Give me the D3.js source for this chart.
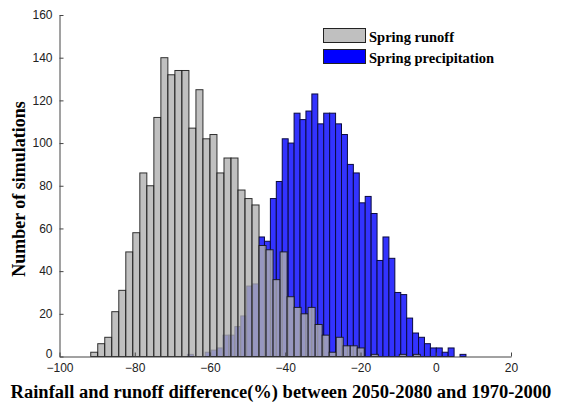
<!DOCTYPE html>
<html>
<head>
<meta charset="utf-8">
<script src="https://cdn.jsdelivr.net/npm/d3@7"></script>
<style>
  html, body { margin: 0; padding: 0; background: #fff; }
  svg { display: block; }
  .tick text { font-family: "Liberation Sans", Arial, sans-serif; font-size: 12px; fill: #222; }
  .tick line, .domain { stroke: #444; }
  .lbl { font-family: "Liberation Serif", "Times New Roman", serif; font-weight: bold; fill: #000; }
</style>
</head>
<body>
<svg id="chart" width="561" height="405"></svg>
<script>
// Histogram counts per bin (number of simulations)
const runoffCounts = [2, 6, 9, 21, 31, 49, 58, 86, 80, 112, 140, 132, 134, 134, 107, 125,
  102, 104, 86, 93, 93, 78, 74, 71, 52, 50, 36, 49, 28, 23, 20, 23, 15, 10, 2, 9, 5, 5, 4,
  0, 1, 0, 0, 0, 1, 0, 1];
const precipCounts = [1, 0, 0, 2, 3, 4, 10, 10, 14, 19, 33, 34, 56, 54, 74, 82, 102, 100,
  114, 111, 115, 123, 109, 114, 114, 109, 104, 90, 86, 72, 75, 67, 45, 56, 46, 30, 29, 18,
  11, 9, 6, 4, 4, 2, 4, 0, 1];

// Bin layout (% difference): first lower edge and bin width of each histogram
const runoffBinStart = -91.7, runoffBinWidth = 1.864;
const precipBinStart = -66.0, precipBinWidth = 1.575;

const xTicks = [-100, -80, -60, -40, -20, 0, 20];
const yTicks = [0, 20, 40, 60, 80, 100, 120, 140, 160];
const seriesNames = ["Spring runoff", "Spring precipitation"];

const svg = d3.select("#chart");
const x = d3.scaleLinear().domain([-100, 20]).range([59.5, 511]);
const y = d3.scaleLinear().domain([0, 160]).range([356.5, 15]);

function bins(counts, start, width) {
  return counts.map((c, i) => ({ x0: start + i * width, x1: start + (i + 1) * width, n: c }))
    .filter(d => d.n > 0);
}

// Precipitation first, runoff drawn over it with transparency
svg.append("g").selectAll("rect")
  .data(bins(precipCounts, precipBinStart, precipBinWidth))
  .join("rect")
  .attr("x", d => x(d.x0))
  .attr("width", d => x(d.x1) - x(d.x0))
  .attr("y", d => y(d.n))
  .attr("height", d => y(0) - y(d.n))
  .attr("fill", "#3333ff")
  .attr("stroke", "#0a0a40")
  .attr("stroke-width", 1);

svg.append("g").selectAll("rect")
  .data(bins(runoffCounts, runoffBinStart, runoffBinWidth))
  .join("rect")
  .attr("x", d => x(d.x0))
  .attr("width", d => x(d.x1) - x(d.x0))
  .attr("y", d => y(d.n))
  .attr("height", d => y(0) - y(d.n))
  .attr("fill", "rgb(176,176,176)")
  .attr("fill-opacity", 0.8)
  .attr("stroke", "#111")
  .attr("stroke-opacity", 0.85)
  .attr("stroke-width", 1);

// Axes with inward ticks
const gx = svg.append("g").attr("transform", `translate(0,${y(0)})`)
  .call(d3.axisBottom(x).tickValues(xTicks).tickSize(-4).tickPadding(9).tickSizeOuter(0));
gx.selectAll(".tick text").attr("dy", "0.55em");

const gy = svg.append("g").attr("transform", `translate(${x(-100)},0)`)
  .call(d3.axisLeft(y).tickValues(yTicks).tickSize(-4).tickPadding(7).tickSizeOuter(0));
gy.selectAll(".tick text").filter(d => d === 0).attr("dy", "0.1em");

// Axis titles
svg.append("text").attr("class", "lbl")
  .attr("x", 281).attr("y", 398)
  .attr("text-anchor", "middle")
  .style("font-size", "18.5px")
  .text("Rainfall and runoff difference(%) between 2050-2080 and 1970-2000");

svg.append("text").attr("class", "lbl")
  .attr("transform", "translate(25,189) rotate(-90)")
  .attr("text-anchor", "middle")
  .style("font-size", "18px")
  .text("Number of simulations");

// Legend
const legendFills = ["#c0c0c0", "#0000ff"];
const lg = svg.append("g");
seriesNames.forEach((name, i) => {
  lg.append("rect")
    .attr("x", 323.5).attr("y", 28.5 + i * 21)
    .attr("width", 42).attr("height", 14)
    .attr("fill", legendFills[i]).attr("stroke", "#222");
  lg.append("text").attr("class", "lbl")
    .attr("x", 369).attr("y", 41.5 + i * 21)
    .style("font-size", "14.5px")
    .text(name);
});
</script>
</body>
</html>
